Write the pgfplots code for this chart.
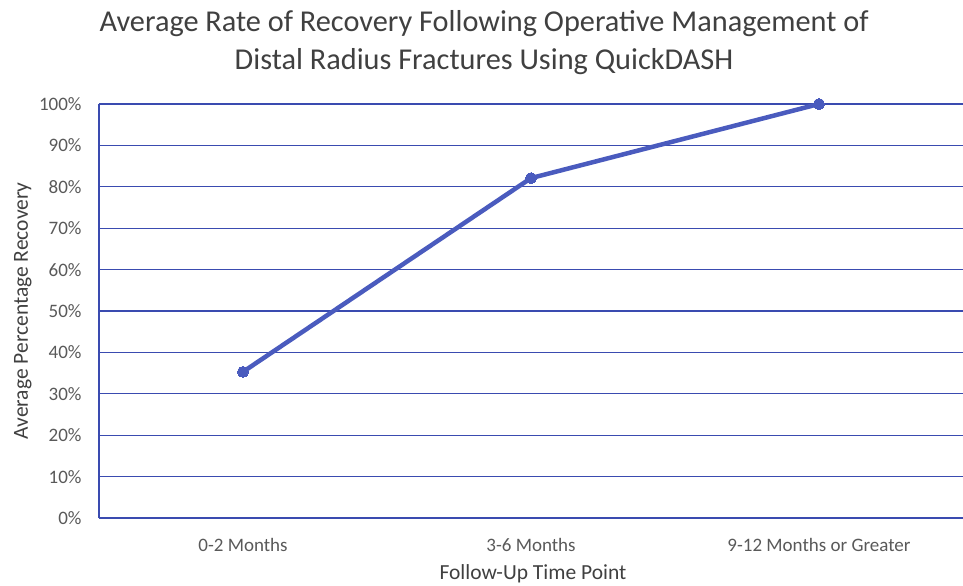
\documentclass[border=0pt]{standalone}
\usepackage{pgfplots}
\pgfplotsset{compat=1.18}
\usepackage{fontspec}
\setmainfont{Carlito}
\definecolor{gridc}{HTML}{3A4BB0}
\definecolor{linec}{HTML}{4A5BBE}
\definecolor{txt}{HTML}{404040}
\definecolor{tick}{HTML}{595959}
\begin{document}
\begin{tikzpicture}
\path[use as bounding box] (-99bp,-68bp) rectangle (864bp,518bp);
\begin{axis}[
  at={(0,0)}, anchor=south west,
  scale only axis, width=864bp, height=414bp,
  xmin=-0.5, xmax=2.5, ymin=0, ymax=100,
  xtick={0,1,2},
  xticklabels={0-2 Months,3-6 Months,9-12 Months or Greater},
  ytick={0,10,...,100},
  yticklabel={\pgfmathprintnumber{\tick}\%},
  /pgf/number format/assume math mode=true,
  major tick length=0pt,
  ymajorgrids, grid style={draw=gridc, line width=1.3bp},
  axis lines=left, axis line style={-, draw=gridc, line width=1.3bp},
  tick label style={font=\fontsize{19bp}{22bp}\selectfont, text=tick},
  yticklabel style={anchor=east, xshift=-14bp},
  xticklabel style={anchor=base, yshift=-33bp},
  xlabel={Follow-Up Time Point},
  ylabel={Average Percentage Recovery},
  every axis x label/.style={at={(axis description cs:0.5,0)}, anchor=base, yshift=-61bp, xshift=2bp, font=\fontsize{21.5bp}{24bp}\selectfont, text=txt},
  every axis y label/.style={at={(axis description cs:-0.0822,0.5)}, anchor=base, rotate=90, font=\fontsize{21.5bp}{24bp}\selectfont, text=txt},
  title={Average Rate of Recovery Following Operative Management of\\Distal Radius Fractures Using QuickDASH},
  title style={font=\fontsize{30.3bp}{38bp}\selectfont, text=txt, align=center, at={(axis description cs:0.4456,1.134)}, anchor=center},
  clip=false,
]
\addplot[color=linec, line width=4.5bp, mark=*, mark size=5.5bp, mark options={fill=linec, draw=linec, line width=0pt}]
  coordinates {(0,35.3) (1,82.1) (2,100)};
\end{axis}
\end{tikzpicture}
\end{document}
